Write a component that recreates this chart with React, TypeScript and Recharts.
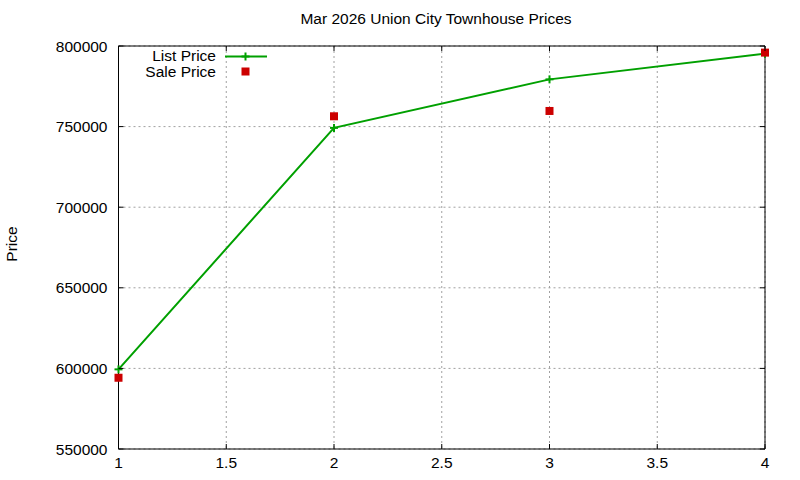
import { ComposedChart, Line, Scatter, XAxis, YAxis, CartesianGrid } from 'recharts';

const bedrooms = [1, 2, 3, 4];
const listPrices = [599400, 749200, 779300, 795200];
const salePrices = [594200, 756400, 759700, 795900];
const xTicks = [1, 1.5, 2, 2.5, 3, 3.5, 4];
const yTicks = [550000, 600000, 650000, 700000, 750000, 800000];

const FONT = '"Liberation Sans", Arial, sans-serif';
const GREEN = '#00a000';
const RED = '#cc0000';
const TICK_LEN = 5;

const data = bedrooms.map((b, i) => ({ x: b, list: listPrices[i], sale: salePrices[i] }));

const LeftTick = (props: any) => {
    const { x, y, payload } = props;
    return (
        <g>
            <line x1={x} y1={y} x2={x + TICK_LEN} y2={y} stroke="#000" />
            <text x={x - 11} y={y + 5.5} textAnchor="end" fontSize={15.5} fontFamily={FONT} fill="#000">
                {payload.value}
            </text>
        </g>
    );
};

const RightTick = (props: any) => {
    const { x, y } = props;
    return <line x1={x} y1={y} x2={x - TICK_LEN} y2={y} stroke="#000" />;
};

const BottomTick = (props: any) => {
    const { x, y, payload } = props;
    return (
        <g>
            <line x1={x} y1={y} x2={x} y2={y - TICK_LEN} stroke="#000" />
            <text x={x} y={y + 19} textAnchor="middle" fontSize={15.5} fontFamily={FONT} fill="#000">
                {payload.value}
            </text>
        </g>
    );
};

const TopTick = (props: any) => {
    const { x, y } = props;
    return <line x1={x} y1={y} x2={x} y2={y + TICK_LEN} stroke="#000" />;
};

const PlusDot = (props: any) => {
    const { cx, cy } = props;
    if (cx == null || cy == null) return null;
    return (
        <g>
            <line x1={cx - 4} y1={cy} x2={cx + 4} y2={cy} stroke={GREEN} strokeWidth={2} />
            <line x1={cx} y1={cy - 4} x2={cx} y2={cy + 4} stroke={GREEN} strokeWidth={2} />
        </g>
    );
};

const SquareDot = (props: any) => {
    const { cx, cy } = props;
    if (cx == null || cy == null) return null;
    return <rect x={cx - 4} y={cy - 4} width={8} height={8} fill={RED} />;
};

export default function App() {
    return (
        <div style={{ position: 'absolute', left: 0, top: 0, width: 800, height: 480, background: '#fff', fontFamily: FONT }}>
            <div style={{ position: 'absolute', top: 10, left: 0, width: 872, textAlign: 'center', fontSize: 15.5, color: '#000' }}>
                Mar 2026 Union City Townhouse Prices
            </div>
            <div
                style={{
                    position: 'absolute',
                    left: 12,
                    top: 244,
                    transform: 'translate(-50%, -50%) rotate(-90deg)',
                    fontSize: 15.5,
                    whiteSpace: 'nowrap',
                }}
            >
                Price
            </div>
            <ComposedChart width={800} height={480} data={data} margin={{ top: 45, right: 34, bottom: 0, left: 0 }}>
                <CartesianGrid stroke="#a0a0a0" strokeDasharray="2 3" />
                <XAxis
                    dataKey="x"
                    type="number"
                    domain={[1, 4]}
                    ticks={xTicks}
                    interval={0}
                    height={31}
                    stroke="#000"
                    tickSize={0}
                    tickMargin={0}
                    tick={<BottomTick />}
                />
                <XAxis
                    xAxisId="top"
                    dataKey="x"
                    orientation="top"
                    type="number"
                    domain={[1, 4]}
                    ticks={xTicks}
                    interval={0}
                    height={1}
                    stroke="#000"
                    tickSize={0}
                    tickMargin={0}
                    tick={<TopTick />}
                />
                <YAxis
                    type="number"
                    domain={[550000, 800000]}
                    ticks={yTicks}
                    interval={0}
                    width={118.5}
                    stroke="#000"
                    tickSize={0}
                    tickMargin={0}
                    tick={<LeftTick />}
                />
                <YAxis
                    yAxisId="right"
                    orientation="right"
                    type="number"
                    domain={[550000, 800000]}
                    ticks={yTicks}
                    interval={0}
                    width={1}
                    stroke="#000"
                    tickSize={0}
                    tickMargin={0}
                    tick={<RightTick />}
                />
                {/* invisible series so the mirrored top/right axes get drawn */}
                <Line
                    xAxisId="top"
                    yAxisId="right"
                    dataKey="list"
                    stroke="none"
                    dot={false}
                    activeDot={false}
                    legendType="none"
                    isAnimationActive={false}
                />
                <Line
                    dataKey="list"
                    name="List Price"
                    stroke={GREEN}
                    strokeWidth={2}
                    dot={<PlusDot />}
                    activeDot={false}
                    isAnimationActive={false}
                />
                <Scatter dataKey="sale" name="Sale Price" shape={<SquareDot />} isAnimationActive={false} />
            </ComposedChart>
            <svg style={{ position: 'absolute', left: 0, top: 0 }} width={800} height={480}>
                <text x={216} y={61} textAnchor="end" fontSize={15.5} fontFamily={FONT}>List Price</text>
                <line x1={225} y1={56.5} x2={267} y2={56.5} stroke={GREEN} strokeWidth={2} />
                <line x1={241.5} y1={56.5} x2={249.5} y2={56.5} stroke={GREEN} strokeWidth={2} />
                <line x1={245.5} y1={52.5} x2={245.5} y2={60.5} stroke={GREEN} strokeWidth={2} />
                <text x={216} y={77} textAnchor="end" fontSize={15.5} fontFamily={FONT}>Sale Price</text>
                <rect x={241.5} y={67.5} width={8} height={8} fill={RED} />
            </svg>
        </div>
    );
}
